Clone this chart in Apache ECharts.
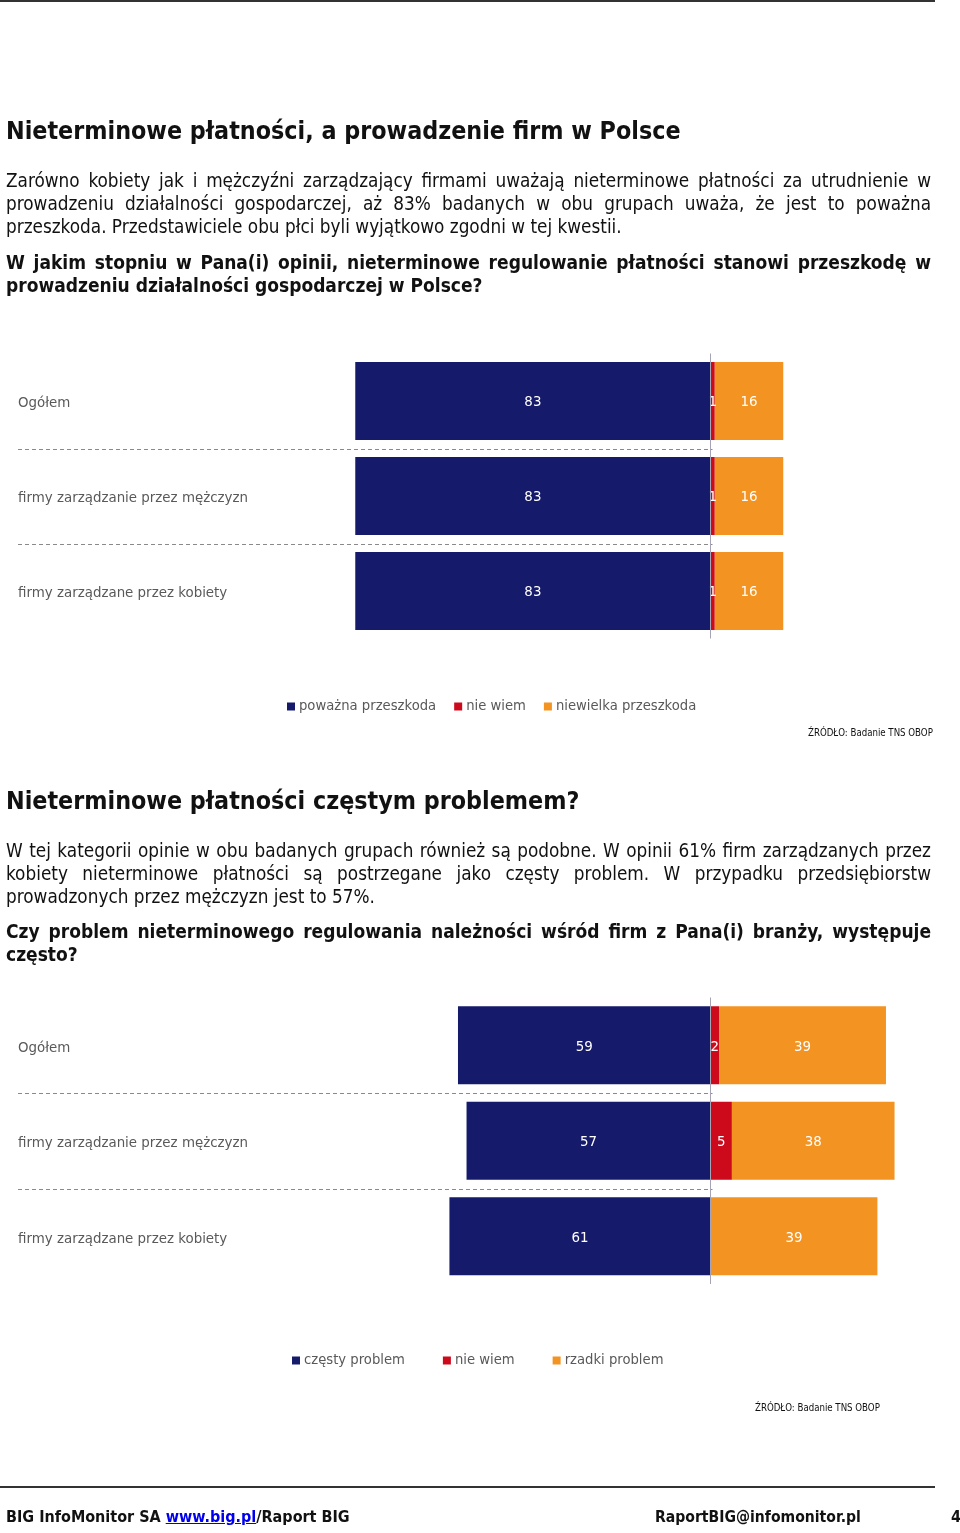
<!DOCTYPE html>
<html>
<head>
<meta charset="utf-8">
<script src="https://cdn.jsdelivr.net/npm/echarts@6/dist/echarts.min.js"></script>
<style>
  html, body { margin:0; padding:0; background:#fff; }
  #page { position:relative; width:960px; height:1533px; overflow:hidden; }
  #chart { position:absolute; left:0; top:0; width:960px; height:1533px; }
  .t { position:absolute; left:6px; width:925px; color:#111;
       font-family:"DejaVu Sans Condensed","Liberation Sans Narrow","DejaVu Sans",sans-serif; font-stretch:condensed; }
  .h { font-weight:bold; font-size:24.8px; line-height:30px; white-space:nowrap; }
  .p { font-size:18.8px; line-height:23px; }
  .q { font-size:19px; line-height:23px; font-weight:bold; }
  .j { display:block; text-align:justify; text-align-last:justify; white-space:nowrap; }
  .l { display:block; text-align:left; white-space:nowrap; }
  .src { position:absolute; font-size:9.6px; color:#111; white-space:nowrap;
         font-family:"DejaVu Sans Condensed","Liberation Sans Narrow","DejaVu Sans",sans-serif; font-stretch:condensed; }
  .rule { position:absolute; left:0; width:935px; background:#333; }
  .foot { position:absolute; top:1505px; line-height:24px; font-size:16px; font-weight:bold; color:#111; white-space:nowrap;
          font-family:"DejaVu Sans Condensed","Liberation Sans Narrow","DejaVu Sans",sans-serif; font-stretch:condensed; }
  .foot a { color:#0000ee; text-decoration:underline; }
</style>
</head>
<body>
<div id="page">
  <div id="chart"></div>
  <div class="rule" style="top:0px;height:2px;"></div>
  <div class="t h" style="top:116px;">Nieterminowe płatności, a prowadzenie firm w Polsce</div>
  <div class="t p" style="top:168.5px;">
    <span class="j">Zarówno kobiety jak i mężczyźni zarządzający firmami uważają nieterminowe płatności za utrudnienie w</span>
    <span class="j">prowadzeniu działalności gospodarczej, aż 83% badanych w obu grupach uważa, że jest to poważna</span>
    <span class="l">przeszkoda. Przedstawiciele obu płci byli wyjątkowo zgodni w tej kwestii.</span>
  </div>
  <div class="t q" style="top:250.5px;">
    <span class="j">W jakim stopniu w Pana(i) opinii, nieterminowe regulowanie płatności stanowi przeszkodę w</span>
    <span class="l">prowadzeniu działalności gospodarczej w Polsce?</span>
  </div>
  <div class="src" style="left:808px;top:727px;">ŹRÓDŁO: Badanie TNS OBOP</div>

  <div class="t h" style="top:786px;">Nieterminowe płatności częstym problemem?</div>
  <div class="t p" style="top:838.5px;">
    <span class="j">W tej kategorii opinie w obu badanych grupach również są podobne. W opinii 61% firm zarządzanych przez</span>
    <span class="j">kobiety nieterminowe płatności są postrzegane jako częsty problem. W przypadku przedsiębiorstw</span>
    <span class="l">prowadzonych przez mężczyzn jest to 57%.</span>
  </div>
  <div class="t q" style="top:919.5px;">
    <span class="j">Czy problem nieterminowego regulowania należności wśród firm z Pana(i) branży, występuje</span>
    <span class="l">często?</span>
  </div>
  <div class="src" style="left:755px;top:1402px;">ŹRÓDŁO: Badanie TNS OBOP</div>

  <div class="rule" style="top:1486px;height:2px;"></div>
  <div class="foot" style="left:6px;">BIG InfoMonitor SA <a>www.big.pl</a>/Raport BIG</div>
  <div class="foot" style="left:655px;font-size:15.6px;">RaportBIG@infomonitor.pl</div>
  <div class="foot" style="left:951px;">4</div>
</div>
<script>
// ---- data ----
const categories = ['Ogółem', 'firmy zarządzanie przez mężczyzn', 'firmy zarządzane przez kobiety'];

const chart1Names = ['poważna przeszkoda', 'nie wiem', 'niewielka przeszkoda'];
const chart1Serious = [83, 83, 83];
const chart1DontKnow = [1, 1, 1];
const chart1Minor = [16, 16, 16];

const chart2Names = ['częsty problem', 'nie wiem', 'rzadki problem'];
const chart2Frequent = [59, 57, 61];
const chart2DontKnow = [2, 5, 0];
const chart2Rare = [39, 38, 39];

// ---- style ----
const NAVY = '#151a6a', RED = '#cc0a1c', ORANGE = '#f39322';
const FONT = 'DejaVu Sans';
const X_MIN = -161.8, X_MAX = 50;

const chart = echarts.init(document.getElementById('chart'), null, { renderer: 'canvas' });

function grid(top, height) {
  return { left: 18, right: 35.5, top: top, height: height, containLabel: false };
}
function xAxis(gi) {
  return { type: 'value', gridIndex: gi, min: X_MIN, max: X_MAX, show: false, splitLine: { show: false } };
}
function yAxis(gi) {
  return {
    type: 'category', gridIndex: gi, data: categories, inverse: true, position: 'left',
    axisLine: { show: false }, axisTick: { show: false }, splitLine: { show: false },
    axisLabel: { inside: true, margin: 0, align: 'left', verticalAlign: 'top', lineHeight: 6,
                 color: '#595959', fontSize: 13.4, fontFamily: FONT }
  };
}
const labelFmt = p => { const v = Math.abs(p.value); return v === 0 ? '' : String(v); };
function barSeries(name, values, color, gi, sign, withZeroLine) {
  const s = {
    type: 'bar', name: name, xAxisIndex: gi, yAxisIndex: gi, stack: 's' + gi,
    barWidth: 78, itemStyle: { color: color },
    data: values.map(v => sign * v),
    label: { show: true, position: 'inside', color: '#ffffff', fontSize: 13.4, fontFamily: FONT,
             formatter: labelFmt, offset: [0, 2] },
    emphasis: { disabled: true }, animation: false
  };
  if (withZeroLine) {
    s.markLine = {
      silent: true, symbol: 'none', label: { show: false }, animation: false,
      lineStyle: { color: '#a4a4b6', type: 'solid', width: 1 },
      data: [{ xAxis: 0 }]
    };
  }
  return s;
}
function separators(gi) {
  const d = [];
  for (let i = 0; i < categories.length - 1; i++) d.push([0, i]);
  return {
    type: 'custom', name: 'sep' + gi, xAxisIndex: gi, yAxisIndex: gi, silent: true, animation: false,
    data: d, encode: { x: 0, y: 1 },
    renderItem: function (params, api) {
      const c = api.coord([0, api.value(1)]);
      const half = api.size([0, 1])[1] / 2;
      const y = Math.round(c[1] + half) + 0.5;
      return {
        type: 'line',
        shape: { x1: params.coordSys.x, y1: y, x2: c[0] + 2, y2: y },
        style: { stroke: '#8a8a8a', lineWidth: 1, lineDash: [4, 3] }
      };
    }
  };
}
function legend(names, left, top, gap) {
  return {
    data: names, left: left, top: top, orient: 'horizontal', itemGap: gap, padding: 0,
    icon: 'rect', itemWidth: 8, itemHeight: 8, selectedMode: false,
    textStyle: { color: '#595959', fontSize: 13.2, fontFamily: FONT, padding: [0, 0, 0, -1] }
  };
}

chart.setOption({
  animation: false,
  grid: [grid(353.5, 285), grid(997.5, 286.5)],
  xAxis: [xAxis(0), xAxis(1)],
  yAxis: [yAxis(0), yAxis(1)],
  legend: [legend(chart1Names, 287, 700, 18), legend(chart2Names, 292, 1354, 38)],
  series: [
    separators(0),
    barSeries(chart1Names[0], chart1Serious, NAVY, 0, -1, true),
    barSeries(chart1Names[1], chart1DontKnow, RED, 0, 1, false),
    barSeries(chart1Names[2], chart1Minor, ORANGE, 0, 1, false),
    separators(1),
    barSeries(chart2Names[0], chart2Frequent, NAVY, 1, -1, true),
    barSeries(chart2Names[1], chart2DontKnow, RED, 1, 1, false),
    barSeries(chart2Names[2], chart2Rare, ORANGE, 1, 1, false)
  ]
});
</script>
</body>
</html>
